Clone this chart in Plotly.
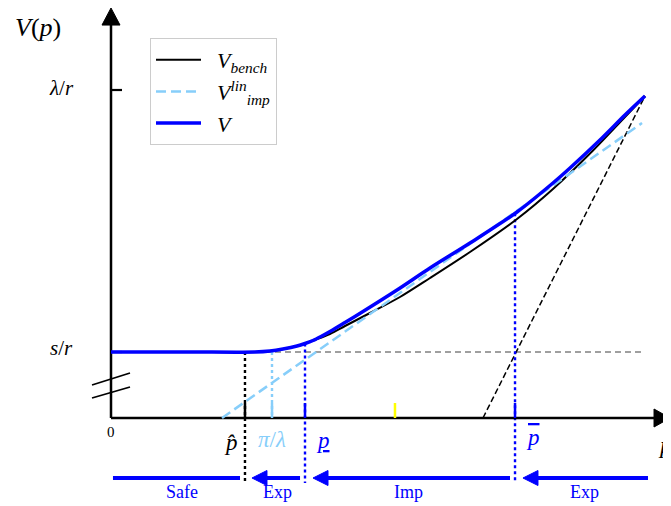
import numpy as np
import plotly.graph_objects as go

# ---------------- data (schematic, p normalised to 1 at the right end, lambda/r = 1) -------------
s_over_r = 0.2012
lam_over_r = 1.0

p_V = [0.0, 0.15, 0.2697, 0.2978, 0.3221, 0.3483, 0.3633, 0.3783, 0.3933, 0.4101, 0.4382, 0.4719,
       0.5356, 0.5974, 0.6723, 0.7603, 0.8277, 0.8596, 0.9157, 0.9625, 1.0]
V_V = [0.2012, 0.2012, 0.2012, 0.2043, 0.2104, 0.2195, 0.2271, 0.2363, 0.2485, 0.2637, 0.2912, 0.3247,
       0.3902, 0.4573, 0.5335, 0.6280, 0.7165, 0.7622, 0.8476, 0.9238, 0.9817]

p_bench = [0.0, 0.15, 0.2697, 0.2978, 0.3221, 0.3483, 0.3633, 0.3783, 0.4101, 0.4382, 0.4850,
           0.5412, 0.5974, 0.6723, 0.7603, 0.8277, 0.9026, 0.9625, 1.0]
V_bench = [0.2012, 0.2012, 0.2012, 0.2043, 0.2104, 0.2195, 0.2271, 0.2363, 0.2561, 0.2805, 0.3201,
           0.3689, 0.4268, 0.5061, 0.6067, 0.6982, 0.8155, 0.9177, 0.9817]

p_lin = [0.2079, 0.9944]
V_lin = [0.0, 0.8994]

p_chord = [0.6966, 1.0]
V_chord = [0.0, 0.9817]

p_hat = 0.2509
pi_lam = 0.3015
p_low = 0.3633
p_high = 0.7566
p_yellow = 0.5318

regions = ["Safe", "Exp", "Imp", "Exp"]
region_x = [0.133, 0.3127, 0.5562, 0.8876]
# arrows: (tail, tip, has_head)
arrow_tail = [0.0037, 0.354, 0.7472, 1.0056]
arrow_tip = [0.2416, 0.264, 0.3783, 0.7715]
arrow_head = [False, True, True, True]

# ---------------- style -------------
BLUE = "#0000ff"
LBLUE = "#87cefa"
FONT = "Liberation Serif"
PX = 1 / 534.0   # one pixel in p units
PY = 1 / 328.0   # one pixel in V units
NB = "\u00a0\u00a0"

fig = go.Figure()

def seg(x, y, color, width, dash="solid", name=None, legend=False, smooth=False):
    line = dict(color=color, width=width, dash=dash)
    if smooth:
        line.update(shape="spline", smoothing=0.8)
    fig.add_trace(go.Scatter(x=x, y=y, mode="lines", name=name, showlegend=legend,
                             line=line, hoverinfo="skip"))

def tri(xs, ys, color):
    fig.add_trace(go.Scatter(x=xs + [xs[0]], y=ys + [ys[0]], mode="lines", fill="toself",
                             fillcolor=color, line=dict(color=color, width=1),
                             showlegend=False, hoverinfo="skip"))

# helper lines
seg([p_hat, 1.0], [s_over_r, s_over_r], "#808080", 1.3, "6px,4px")
seg(p_chord, V_chord, "black", 1.5, "6px,3px")

V_low = float(np.interp(p_low, p_V, V_V))
V_high = float(np.interp(p_high, p_V, V_V))
bottom = -0.198
seg([p_hat, p_hat], [s_over_r, bottom], "black", 2.4, "dot")
seg([pi_lam, pi_lam], [s_over_r, 0], LBLUE, 2.4, "dot")
seg([p_low, p_low], [V_low, bottom], BLUE, 2.4, "dot")
seg([p_high, p_high], [V_high, bottom], BLUE, 2.4, "dot")

# axis
seg([0, 0], [0, 1.20], "black", 2.5)
seg([0, 1.02], [0, 0], "black", 2.5)
tri([0 - 9 * PX, 0 + 9 * PX, 0], [1.198, 1.198, 1.25], "black")
tri([1.0169, 1.0169, 1.0468], [9 * PY, -9 * PY, 0], "black")
seg([0, 11 * PX], [lam_over_r, lam_over_r], "black", 2.2)
seg([0, 11 * PX], [s_over_r, s_over_r], "black", 2.2)
# axis break marks
seg([-19 * PX, 19 * PX], [0.1006, 0.1372], "black", 1.8)
seg([-19 * PX, 19 * PX], [0.0610, 0.0945], "black", 1.8)

# ticks on p axis
tick_h = 15 * PY
seg([p_hat, p_hat], [0, tick_h], "black", 2.5)
seg([pi_lam, pi_lam], [0, tick_h], LBLUE, 2.5)
seg([p_low, p_low], [0, tick_h], BLUE, 2.5)
seg([p_high, p_high], [0, tick_h], BLUE, 2.5)
seg([p_yellow, p_yellow], [0, tick_h], "#ffff00", 2.5)

# main curves
seg(p_bench, V_bench, "black", 2, name=NB + "<i>V</i><sub><i>bench</i></sub>", legend=True, smooth=True)
seg(p_lin, V_lin, LBLUE, 2.5, "10px,5px", name=NB + "<i>V</i><sup><i>lin</i></sup><sub><i>imp</i></sub>", legend=True)
seg(p_V, V_V, BLUE, 3.5, name=NB + "<i>V</i>", legend=True, smooth=True)

# bottom region arrows
y_arr = -60 * PY
head_len = 15 * PX
head_w = 7.5 * PY
for tail, tip, head in zip(arrow_tail, arrow_tip, arrow_head):
    end = tip + head_len if head else tip
    seg([tail, end], [y_arr, y_arr], BLUE, 4)
    if head:
        tri([tip, tip + head_len, tip + head_len], [y_arr, y_arr + head_w, y_arr - head_w], BLUE)

def txt(x, y, s, size, color="black"):
    fig.add_annotation(x=x, y=y, text=s, showarrow=False, xref="x", yref="y",
                       font=dict(family=FONT, size=size, color=color))

for lab, x in zip(regions, region_x):
    txt(x, -74 * PY, lab, 18, BLUE)

txt(-0.137, 1.192, "<i>V</i>(<i>p</i>)", 26)
txt(-0.0918, 1.006, "<i>λ</i>/<i>r</i>", 21)
txt(-0.0936, 0.213, "<i>s</i>/<i>r</i>", 21)
txt(0.0, -14 * PY, "0", 15)
txt(0.2247, -24 * PY, "<i>p̂</i>", 23)
txt(pi_lam, -21 * PY, "<i>π</i>/<i>λ</i>", 23, LBLUE)
txt(0.397, -22 * PY, "<span style='text-decoration:underline'><i>p</i></span>", 23, BLUE)
txt(0.790, -19 * PY, "<span style='text-decoration:overline'><i>p</i></span>", 23, BLUE)
txt(1.0375, -27 * PY, "<i>p</i>", 24)

# the page places the figure 8px in from the top-left corner of the window
fig.update_layout(
    width=663, height=498, autosize=False,
    margin=dict(l=0, r=0, t=0, b=0),
    paper_bgcolor="white", plot_bgcolor="white",
    xaxis=dict(range=[-0.19288, 1.04869], visible=False, fixedrange=True),
    yaxis=dict(range=[-0.26829, 1.25], visible=False, fixedrange=True),
    legend=dict(x=142 / 663, y=1 - 30 / 498, xanchor="left", yanchor="top",
                bgcolor="white", bordercolor="#cccccc", borderwidth=1, itemwidth=45,
                font=dict(family=FONT, size=22, color="black"), tracegroupgap=0),
    hovermode=False,
)
fig.write_html("out.html", config={"displayModeBar": False})
